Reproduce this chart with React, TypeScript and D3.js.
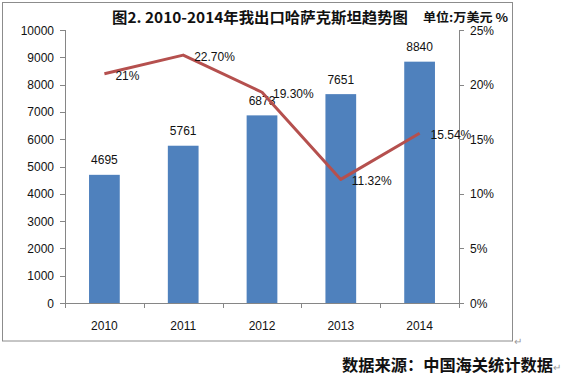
import React from "react";
import * as d3 from "d3";

const years = ["2010", "2011", "2012", "2013", "2014"];
const exportValues = [4695, 5761, 6873, 7651, 8840];
const growthRates = [21, 22.7, 19.3, 11.32, 15.54];
const growthLabels = ["21%", "22.70%", "19.30%", "11.32%", "15.54%"];
const leftTicks = [0, 1000, 2000, 3000, 4000, 5000, 6000, 7000, 8000, 9000, 10000];
const rightTicks = [0, 5, 10, 15, 20, 25];

const title = "图2. 2010-2014年我出口哈萨克斯坦趋势图";
const unitText = "单位:万美元 %";
const sourceText = "数据来源：中国海关统计数据";

export default function App() {
  const W = 563, H = 382;
  const x0 = 65, x1 = 459, yTop = 30, yBot = 303;
  const x = d3.scaleBand().domain(years).range([x0, x1]).paddingInner(0.61).paddingOuter(0.305);
  const yL = d3.scaleLinear().domain([0, 10000]).range([yBot, yTop]);
  const yR = d3.scaleLinear().domain([0, 25]).range([yBot, yTop]);
  const band = d3.scaleBand().domain(years).range([x0, x1]);
  const cx = (d: string) => (band(d) as number) + band.bandwidth() / 2;
  const line = d3.line<number>().x((_, i) => cx(years[i])).y((v) => yR(v));
  const axisColor = "#868686";
  const font = "'Liberation Sans', Arial, sans-serif";
  const cjk = "'Noto Sans CJK SC', 'Noto Sans', sans-serif";

  return (
    <svg width={W} height={H} style={{ position: "absolute", left: 0, top: 0, background: "#fff" }}>
      <rect x={2.5} y={2.5} width={510} height={338.5} fill="#fff" stroke="#8c8c8c" strokeWidth={1} />
      <text x={112} y={23} fontFamily={cjk} fontWeight="bold" fontSize={15} fill="#111" textLength={296} lengthAdjust="spacingAndGlyphs">{title}</text>
      <text x={423} y={22} fontFamily={cjk} fontWeight="bold" fontSize={12} fill="#111" textLength={85} lengthAdjust="spacingAndGlyphs">{unitText}</text>

      {exportValues.map((v, i) => (
        <rect key={"b" + i} x={x(years[i])} y={yL(v)} width={x.bandwidth()} height={yBot - yL(v)} fill="#4F81BD" />
      ))}

      {/* left axis */}
      <line x1={x0 + 0.5} x2={x0 + 0.5} y1={yTop} y2={yBot} stroke={axisColor} />
      {leftTicks.map((t) => (
        <g key={"l" + t}>
          <line x1={x0 - 5} x2={x0} y1={Math.round(yL(t)) + 0.5} y2={Math.round(yL(t)) + 0.5} stroke={axisColor} />
          <text x={54} y={yL(t) + 4.5} textAnchor="end" fontFamily={font} fontSize={12} fill="#111">{t}</text>
        </g>
      ))}
      {/* right axis */}
      <line x1={x1 + 0.5} x2={x1 + 0.5} y1={yTop} y2={yBot} stroke={axisColor} />
      {rightTicks.map((t) => (
        <g key={"r" + t}>
          <line x1={x1} x2={x1 + 5} y1={Math.round(yR(t)) + 0.5} y2={Math.round(yR(t)) + 0.5} stroke={axisColor} />
          <text x={470} y={yR(t) + 4.5} fontFamily={font} fontSize={12} fill="#111">{t + "%"}</text>
        </g>
      ))}
      {/* x axis */}
      <line x1={x0 - 5} x2={x1 + 5} y1={yBot + 0.5} y2={yBot + 0.5} stroke={axisColor} />
      {years.map((yr, i) => (
        <line key={"xt" + i} x1={Math.round(band(yr) as number) + 0.5} x2={Math.round(band(yr) as number) + 0.5} y1={yBot} y2={yBot + 5} stroke={axisColor} />
      ))}
      <line x1={x1 + 0.5} x2={x1 + 0.5} y1={yBot} y2={yBot + 5} stroke={axisColor} />
      {years.map((yr) => (
        <text key={"xl" + yr} x={cx(yr)} y={329.5} textAnchor="middle" fontFamily={font} fontSize={12} fill="#111">{yr}</text>
      ))}

      {/* bar labels */}
      {exportValues.map((v, i) => (
        <text key={"bl" + i} x={cx(years[i])} y={yL(v) - 10.5} textAnchor="middle" fontFamily={font} fontSize={12} fill="#111">{v}</text>
      ))}

      {/* growth line */}
      <path d={line(growthRates) || ""} fill="none" stroke="#B5504E" strokeWidth={3} strokeLinejoin="round" />
      {growthRates.map((v, i) => (
        <text key={"gl" + i} x={cx(years[i]) + 11} y={yR(v) + 6} fontFamily={font} fontSize={12} fill="#111">{growthLabels[i]}</text>
      ))}

      <text x={514} y={345} fontFamily={font} fontSize={10} fill="#999">↵</text>
      <text x={342} y={371} fontFamily={cjk} fontWeight="bold" fontSize={16} fill="#111" textLength={211} lengthAdjust="spacingAndGlyphs">{sourceText}</text>
      <text x={553} y={371} fontFamily={font} fontSize={10} fill="#999">↵</text>
    </svg>
  );
}
